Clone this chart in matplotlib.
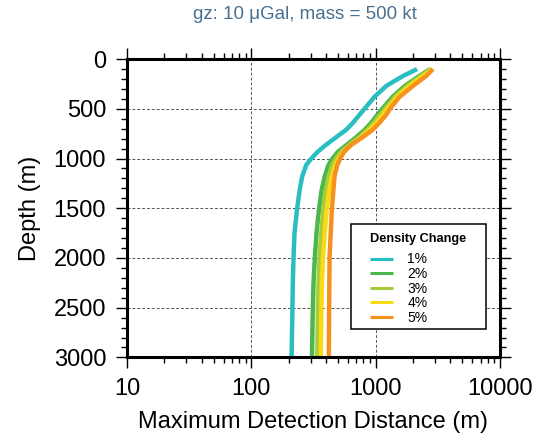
import numpy as np
import matplotlib
matplotlib.use('Agg')
import matplotlib.pyplot as plt
from matplotlib.patches import Rectangle
from matplotlib.ticker import MultipleLocator, LogLocator, NullFormatter, FixedLocator

plt.rcParams['font.family'] = ['Liberation Sans', 'DejaVu Sans']

# depth (m) and maximum detection distance (m) for each density change
depth = [100, 170, 270, 380, 480, 560, 640, 710, 785, 860, 930, 1000, 1065,
         1180, 1320, 1520, 1750, 1990, 2250, 2590, 3000]
dist_1 = [2160, 1660, 1220, 980, 840, 743, 658, 581, 483, 401, 344, 304, 277,
          257, 245, 233, 223, 219, 216, 214, 211]
dist_2 = [2760, 2250, 1720, 1370, 1170, 1035, 923, 820, 700, 590, 500, 450, 418,
          390, 368, 350, 335, 325, 317, 312, 308]
dist_3 = [2800, 2330, 1800, 1430, 1230, 1090, 970, 860, 740, 620, 530, 480, 448,
          420, 398, 380, 366, 355, 348, 343, 340]
dist_4 = [2850, 2420, 1880, 1490, 1280, 1150, 1020, 900, 770, 640, 555, 505, 475,
          446, 423, 404, 390, 378, 370, 366, 363]
dist_5 = [2900, 2550, 2000, 1560, 1340, 1219, 1075, 950, 790, 640, 560, 520, 492,
          468, 458, 445, 436, 427, 425, 423, 421]
labels = ['1%', '2%', '3%', '4%', '5%']
colors = ['#29bfc2', '#4cb74c', '#a8cd3a', '#f8db14', '#f6911e']

fig = plt.figure(figsize=(5.38, 4.38), dpi=100)
ax = fig.add_axes([0.236, 0.184, 0.693, 0.681])

for d, lab, c in zip([dist_1, dist_2, dist_3, dist_4, dist_5], labels, colors):
    ax.plot(d, depth, color=c, lw=3.2, label=lab, solid_capstyle='butt')

ax.set_xscale('log')
ax.set_xlim(10, 10000)
ax.set_ylim(3000, 0)
ax.xaxis.set_major_locator(FixedLocator([10, 100, 1000, 10000]))
ax.xaxis.set_minor_locator(LogLocator(base=10, subs=np.arange(2, 10)))
ax.xaxis.set_minor_formatter(NullFormatter())
ax.set_xticklabels(['10', '100', '1000', '10000'])
ax.yaxis.set_major_locator(MultipleLocator(500))
ax.yaxis.set_minor_locator(MultipleLocator(100))

ax.tick_params(which='both', direction='out', top=True, right=True, labelsize=17, width=1)
ax.tick_params(which='major', length=8, pad=7)
ax.tick_params(which='minor', length=4)
for s in ax.spines.values():
    s.set_linewidth(2.2)

ax.grid(True, which='major', color='#555555', linestyle=(0, (3, 2)), lw=0.7)

ax.set_xlabel('Maximum Detection Distance (m)', fontsize=17, labelpad=8)
ax.set_ylabel('Depth (m)', fontsize=17, labelpad=9)
fig.text(0.567, 0.967, 'gz: 10 \u03bcGal, mass = 500 kt', ha='center', va='center',
         fontsize=13.5, color='#4a7090')

# legend box: white frame, bold title, entries below
ax.add_patch(Rectangle((0.6005, 0.095), 0.362, 0.352, transform=ax.transAxes,
                       facecolor='white', edgecolor='black', lw=1.1, zorder=4))
ax.text(0.7815, 0.397, 'Density Change', transform=ax.transAxes, ha='center', va='center',
        fontsize=9.2, fontweight='bold', zorder=6)
leg = ax.legend(loc='upper left', bbox_to_anchor=(0.6515, 0.352), fontsize=10,
                frameon=False, handlelength=1.7, labelspacing=0.04, borderpad=0,
                handletextpad=1.0, borderaxespad=0)
leg.set_zorder(6)
for h in leg.get_lines():
    h.set_linewidth(2.2)

fig.savefig('out.png', dpi=100)
